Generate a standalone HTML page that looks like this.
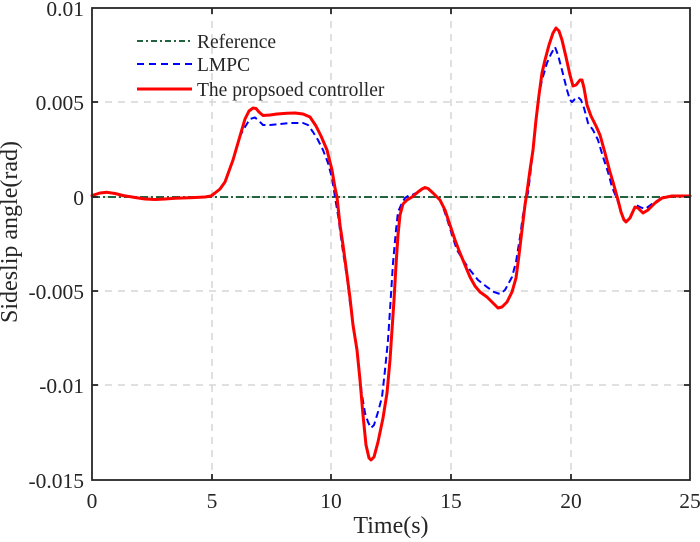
<!DOCTYPE html>
<html><head><meta charset="utf-8"><style>
html,body{margin:0;padding:0;background:#fff;}
svg{display:block;}
text{font-family:"Liberation Serif","Times New Roman",serif;fill:#262626;}
</style></head><body>
<svg width="700" height="542" viewBox="0 0 700 542" xmlns="http://www.w3.org/2000/svg">
<rect width="700" height="542" fill="#fff"/>
<!-- grid -->
<g stroke="#d6d6d6" stroke-width="1.5" stroke-dasharray="7,6" fill="none">
<line x1="212" y1="8" x2="212" y2="480"/>
<line x1="331" y1="8" x2="331" y2="480"/>
<line x1="451" y1="8" x2="451" y2="480"/>
<line x1="571" y1="8" x2="571" y2="480"/>
<line x1="92" y1="102" x2="690" y2="102"/>
<line x1="92" y1="197" x2="690" y2="197"/>
<line x1="92" y1="291" x2="690" y2="291"/>
<line x1="92" y1="385" x2="690" y2="385"/>
</g>
<!-- reference -->
<line x1="92" y1="197" x2="690" y2="197" stroke="#23633f" stroke-width="2" stroke-dasharray="8,3,2,3"/>
<!-- LMPC -->
<polyline fill="none" stroke="#0000ff" stroke-width="2" stroke-dasharray="7,4" stroke-linejoin="round"
points="92,195.5 100,193 107,192.3 115,193.5 123,195.5 135,197.5 145,199 155,199.5 165,199 175,198.3 190,197.8 205,197 211,196 215,193 220,189 225,182 233,160 240,136 245,127 250,119 255,117.5 259,121 263,125 270,125 280,124 290,123 303,123 308,125 313,132 318,140 323,150 328,163 332,178 335,197 338,215 342,245 347,278 350,303 354,330 358,360 362,395 365,413 368,422 371,428 374,425 378,412 382,397 385,370 388,340 390,310 393,263 396,230 398,212 402,203 405,198 408,196 412,195 418,192 422,189 425,187.5 428,188.5 433,193 440,200 444,210 448,222 453,238 457,250 463,260 470,270 478,280 487,287 494,292 500,294 505,290 512,277 516,262 520,237 523,215 525,203 528,193 532,160 535,130 538,100 542,80 547,63 551,54 555,47 558,55 562,70 567,90 570,100 572,102 575,99 578,97 581,100 584,108 588,123 593,130 598,140 603,157 608,172 612,187 617,199 621,212 624,219 626,221 629,219 632,213 636,205 640,207 645,209 652,204 660,199 672,196 690,196"/>
<!-- proposed -->
<polyline fill="none" stroke="#ff0000" stroke-width="3" stroke-linejoin="round" stroke-linecap="round"
points="92,195.5 100,193 107,192.3 115,193.5 123,195.5 135,197.5 145,199 155,199.5 165,199 175,198.3 190,197.8 205,197 211,196 215,193 220,189 225,182 233,160 240,136 245,119 249,111 253,108 256,108.5 259,112 263,115.5 270,115 277,114 287,113.3 295,113 303,114 310,117 316,126 321,136 327,150 332,170 335,188 337,197 340,225 343,245 347,275 350,298 353,325 357,350 360,380 363,415 366,445 369,458 371,460 374,457 378,442 383,418 387,393 390,360 392,330 394,300 396,265 398,235 400,215 403,204 407,200 412,197 418,192 422,189 425,187.5 428,188.5 433,193 440,200 445,210 450,225 455,240 460,253 465,265 470,277 475,286 480,292 487,297 493,303 498,308 502,307 507,302 512,292 516,278 519,255 522,230 525,205 527,192 530,170 533,150 536,120 539,95 542,73 545,60 549,45 553,33 556,28 559,31 562,40 566,57 570,75 573,86 576,85 580,80 582,80 584,88 587,105 591,116 596,126 600,135 605,153 610,172 613,182 618,200 621,212 624,220 626,222 630,218 635,207 638,208 643,213 648,210 655,203 662,198 672,196 690,196"/>
<!-- axes box -->
<g stroke="#262626" stroke-width="1.8" fill="none">
<rect x="92" y="8" width="598" height="472"/>
<!-- x ticks -->
<line x1="212" y1="480" x2="212" y2="474"/><line x1="331" y1="480" x2="331" y2="474"/>
<line x1="451" y1="480" x2="451" y2="474"/><line x1="571" y1="480" x2="571" y2="474"/>
<line x1="212" y1="8" x2="212" y2="14"/><line x1="331" y1="8" x2="331" y2="14"/>
<line x1="451" y1="8" x2="451" y2="14"/><line x1="571" y1="8" x2="571" y2="14"/>
<!-- y ticks -->
<line x1="92" y1="102" x2="98" y2="102"/><line x1="92" y1="197" x2="98" y2="197"/>
<line x1="92" y1="291" x2="98" y2="291"/><line x1="92" y1="385" x2="98" y2="385"/>
<line x1="690" y1="102" x2="684" y2="102"/><line x1="690" y1="197" x2="684" y2="197"/>
<line x1="690" y1="291" x2="684" y2="291"/><line x1="690" y1="385" x2="684" y2="385"/>
</g>
<!-- y tick labels -->
<g font-size="21.5" text-anchor="end">
<text x="84" y="16">0.01</text>
<text x="84" y="110">0.005</text>
<text x="84" y="205">0</text>
<text x="84" y="299">-0.005</text>
<text x="84" y="393">-0.01</text>
<text x="84" y="488">-0.015</text>
</g>
<!-- x tick labels -->
<g font-size="21.5" text-anchor="middle">
<text x="92" y="508">0</text>
<text x="212" y="508">5</text>
<text x="331" y="508">10</text>
<text x="451" y="508">15</text>
<text x="571" y="508">20</text>
<text x="690" y="508">25</text>
</g>
<text x="391" y="533" font-size="24" text-anchor="middle">Time(s)</text>
<text transform="translate(17,232) rotate(-90)" font-size="24" text-anchor="middle">Sideslip angle(rad)</text>
<!-- legend -->
<line x1="137" y1="41" x2="192" y2="41" stroke="#23633f" stroke-width="2" stroke-dasharray="6,3,2,3"/>
<line x1="137" y1="64" x2="192" y2="64" stroke="#0000ff" stroke-width="2" stroke-dasharray="7,5"/>
<line x1="137" y1="89" x2="192" y2="89" stroke="#ff0000" stroke-width="3"/>
<g font-size="19.5">
<text x="197" y="48">Reference</text>
<text x="197" y="71">LMPC</text>
<text x="197" y="96">The propsoed controller</text>
</g>
</svg>
</body></html>
